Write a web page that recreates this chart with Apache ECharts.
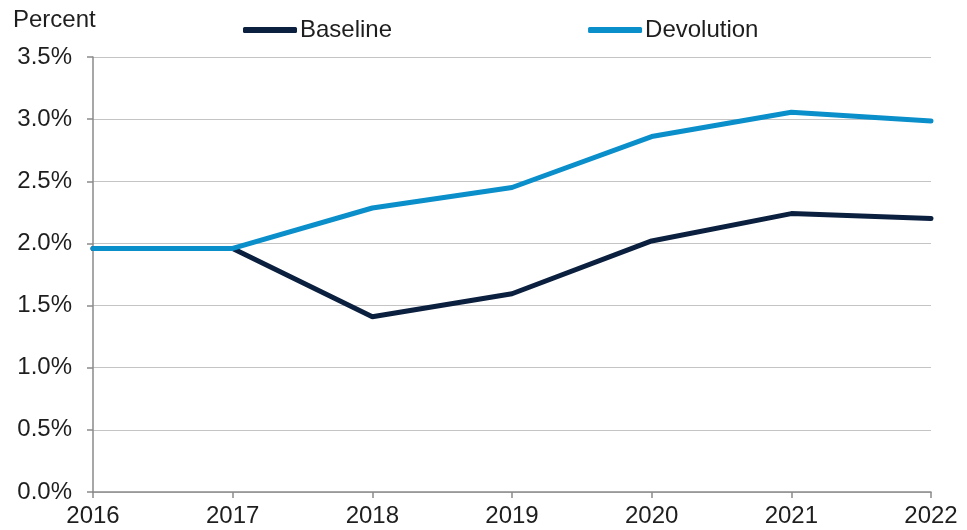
<!DOCTYPE html>
<html><head><meta charset="utf-8">
<script src="https://cdn.jsdelivr.net/npm/echarts@6/dist/echarts.min.js"></script>
<style>html,body{margin:0;padding:0;background:#fff}#c{width:967px;height:530px}</style>
</head><body><div id="c"></div>
<script>
const years = ['2016','2017','2018','2019','2020','2021','2022'];
const baseline = [1.96, 1.96, 1.41, 1.595, 2.02, 2.24, 2.20];
const devolution = [1.96, 1.96, 2.285, 2.45, 2.86, 3.055, 2.985];
const yTicks = [0, 0.5, 1.0, 1.5, 2.0, 2.5, 3.0, 3.5];

const font = 'Liberation Sans, Arial, sans-serif';
const chart = echarts.init(document.getElementById('c'));
chart.setOption({
  animation: false,
  title: {text: 'Percent', left: 8, top: 3, textStyle: {fontFamily: font, fontSize: 24, fontWeight: 'normal', color: '#1e1e1e'}},
  legend: {
    left: 243, top: 18, padding: 0, itemGap: 196, itemWidth: 54, itemHeight: 6, icon: 'roundRect',
    textStyle: {fontFamily: font, fontSize: 24, color: '#1e1e1e', padding: [0,0,0,-2]},
    data: ['Baseline', 'Devolution']
  },
  grid: {left: 93, right: 36, top: 57, bottom: 38, containLabel: false},
  xAxis: {
    type: 'category', data: years, boundaryGap: false,
    axisLine: {lineStyle: {color: '#8a8a8a', width: 1.5}},
    axisTick: {show: true, length: 6, lineStyle: {color: '#8a8a8a', width: 1.5}},
    axisLabel: {fontFamily: font, fontSize: 24, color: '#1e1e1e', margin: 12},
    splitLine: {show: false}
  },
  yAxis: {
    type: 'value', min: yTicks[0], max: yTicks[yTicks.length-1], interval: 0.5,
    axisLine: {show: true, lineStyle: {color: '#8a8a8a', width: 1.5}},
    axisTick: {show: true, length: 6, lineStyle: {color: '#8a8a8a', width: 1.5}},
    axisLabel: {fontFamily: font, fontSize: 24, color: '#1e1e1e', margin: 21, formatter: v => v.toFixed(1) + '%'},
    splitLine: {lineStyle: {color: '#c4c4c4', width: 1.2}}
  },
  series: [
    {name: 'Baseline', type: 'line', data: baseline, symbol: 'none', color: '#0b1f3f',
     lineStyle: {width: 5, color: '#0b1f3f', cap: 'round'}},
    {name: 'Devolution', type: 'line', data: devolution, symbol: 'none', color: '#0a8fcb',
     lineStyle: {width: 5, color: '#0a8fcb', cap: 'round'}}
  ]
});
</script></body></html>
